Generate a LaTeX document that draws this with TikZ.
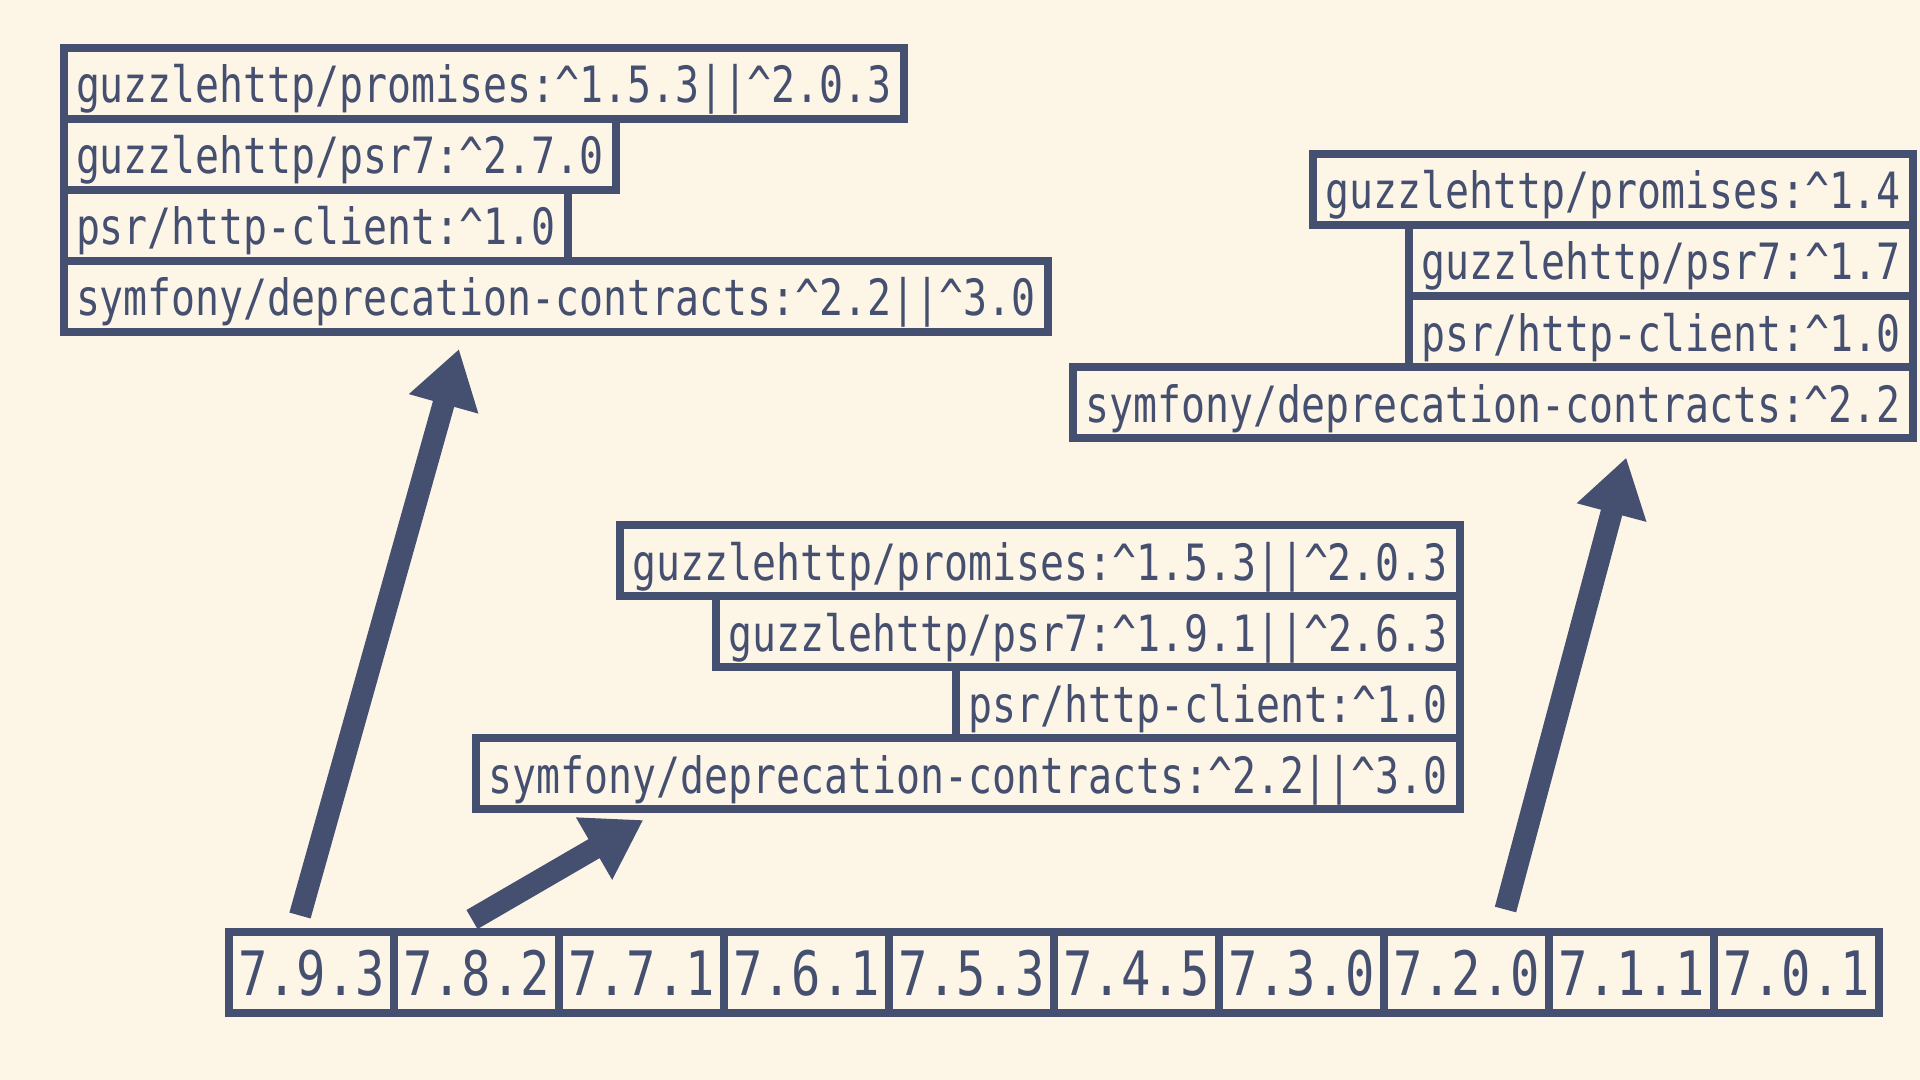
\documentclass[tikz,border=0pt]{standalone}
\usepackage{fontspec}
\usetikzlibrary{arrows.meta,calc}
\newfontfamily\depfont[FakeStretch=0.797]{DejaVu Sans Mono}
\definecolor{ink}{HTML}{454F70}
\definecolor{paper}{HTML}{FDF5E6}
\newcommand{\crt}{\textasciicircum}
\begin{document}
\begin{tikzpicture}[x=0.5pt,y=-0.5pt,
  dep/.style={draw=ink, line width=4pt, text=ink, inner xsep=6pt, inner ysep=0pt,
    text height=27.5pt, text depth=8pt, outer sep=0pt,
    font=\depfont\fontsize{25pt}{25pt}\selectfont},
  ver/.style={draw=ink, line width=4pt, text=ink, inner xsep=0pt, inner ysep=0pt,
    minimum width=82.5pt, text height=31.5pt, text depth=9pt, outer sep=0pt,
    font=\depfont\fontsize{30.6pt}{30.6pt}\selectfont},
  bigarrow/.style={draw=ink, line width=11pt, -{Triangle[length=28.5pt,width=34pt]}}]
\fill[paper] (0,0) rectangle (1920,1080);
\useasboundingbox (0,0) rectangle (1920,1080);

% top-left group (7.9.3)
\node[dep, anchor=north west] (tl1) at (64,48) {guzzlehttp/promises:\crt1.5.3||\crt2.0.3};
\node[dep, anchor=north west] (tl2) at (tl1.south west) {guzzlehttp/psr7:\crt2.7.0};
\node[dep, anchor=north west] (tl3) at (tl2.south west) {psr/http-client:\crt1.0};
\node[dep, anchor=north west] (tl4) at (tl3.south west) {symfony/deprecation-contracts:\crt2.2||\crt3.0};

% middle group (7.8.2)
\node[dep, anchor=north east] (md1) at (1460,525) {guzzlehttp/promises:\crt1.5.3||\crt2.0.3};
\node[dep, anchor=north east] (md2) at (md1.south east) {guzzlehttp/psr7:\crt1.9.1||\crt2.6.3};
\node[dep, anchor=north east] (md3) at (md2.south east) {psr/http-client:\crt1.0};
\node[dep, anchor=north east] (md4) at (md3.south east) {symfony/deprecation-contracts:\crt2.2||\crt3.0};

% right group (7.2.0)
\node[dep, anchor=north east] (rt1) at (1913,154) {guzzlehttp/promises:\crt1.4};
\node[dep, anchor=north east] (rt2) at (rt1.south east) {guzzlehttp/psr7:\crt1.7};
\node[dep, anchor=north east] (rt3) at (rt2.south east) {psr/http-client:\crt1.0};
\node[dep, anchor=north east] (rt4) at (rt3.south east) {symfony/deprecation-contracts:\crt2.2};

% version row
\foreach \vv [count=\i from 0] in {7.9.3,7.8.2,7.7.1,7.6.1,7.5.3,7.4.5,7.3.0,7.2.0,7.1.1,7.0.1}
  \node[ver, anchor=north west] (v\i) at ({229+165*\i},932) {\vv};

% arrows
\draw[bigarrow] ($(v0.north)+(-11.5,-16.5)$) -- ($(tl4.south west)+(395,17)$);
\draw[bigarrow] ($(v1.north)+(-4.5,-12.5)$) -- ($(md4.south west)+(167,11)$);
\draw[bigarrow] ($(v7.north)+(39,-22.5)$) -- ($(rt4.south west)+(553,19.5)$);
\end{tikzpicture}
\end{document}
